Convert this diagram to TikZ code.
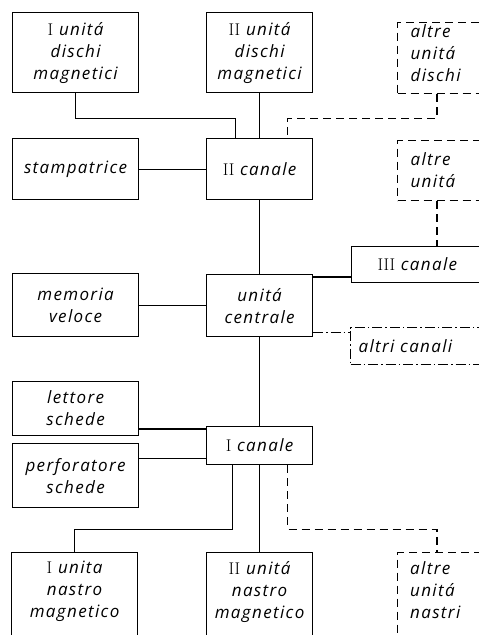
\documentclass[tikz,border=0pt]{standalone}
\usepackage{fontspec}
\setsansfont{Open Sans}[LetterSpace=8]
\newcommand\lbl{\sffamily\itshape\fontsize{17}{22}\selectfont}
\newcommand\rn[1]{{\rmfamily\upshape #1}}
\tikzset{
  box/.style={draw, line width=1.2pt, rectangle, inner sep=0pt, align=center, font=\lbl, anchor=north west},
  dbox/.style={box, dash pattern=on 8pt off 5pt},
  ddbox/.style={box, dash pattern=on 10pt off 3pt on 1.5pt off 3pt},
  lbox/.style={align=left, inner xsep=#1},
  txt/.style={inner sep=0pt, font=\lbl},
  conn/.style={line width=1.2pt},
  dconn/.style={conn, dash pattern=on 8pt off 5pt},
  ddconn/.style={conn, dash pattern=on 10pt off 3pt on 1.5pt off 3pt},
}
\begin{document}
\begin{tikzpicture}[x=1pt, y=-1pt]
\useasboundingbox (0,0) rectangle (479,635);
\clip (0,0) rectangle (479,635);
% top row
\node[box, minimum width=126pt, minimum height=80pt] (d1) at (12,12) {\rn{I} unitá\\dischi\\magnetici};
\node[box, minimum width=106pt, minimum height=80pt] (d2) at (206,12) {\rn{II} unitá\\dischi\\magnetici};
\node[dbox, lbox=13pt, text width=70pt, minimum height=71pt] (d3) at (397,22) {altre\\unitá\\dischi\\[-11pt]\mbox{}};
% second row
\node[box, minimum width=126pt, minimum height=61pt] (st) at (12,138) {stampatrice};
\node[box, minimum width=106pt, minimum height=61pt] (c2) at (206,138) {\rn{II} canale};
\node[dbox, lbox=13pt, text width=70pt, minimum height=60pt] (au) at (397,140) {altre\\unitá};
% third channel
\node[box, lbox=26pt, text width=90pt, minimum height=36pt] (c3) at (351,246) {\rn{III} canale};
% centre row
\node[box, minimum width=126pt, minimum height=63pt] (mv) at (12,273) {memoria\\veloce};
\node[box, minimum width=106pt, minimum height=62pt] (uc) at (206,274) {unitá\\centrale};
\node[ddbox, lbox=8pt, text width=130pt, minimum height=37pt] (ac) at (350,327) {altri canali};
% first channel group
\node[box, minimum width=126pt, minimum height=54pt] (ls) at (12,381) {lettore\\schede};
\node[box, minimum width=106pt, minimum height=38pt] (c1) at (206,426) {\rn{I} canale};
\node[box, minimum width=126pt, minimum height=64pt] (ps) at (12,443) {perforatore\\schede};
% bottom row
\node[box, minimum width=126pt, minimum height=100pt] (n1) at (11,552) {};
\node[box, minimum width=106pt, minimum height=100pt] (n2) at (206,552) {};
\node[dbox, minimum width=96pt, minimum height=100pt] (n3) at (397,552) {};
\node[txt, align=center, anchor=north] (n1t) at ([yshift=-9pt]n1.north) {\rn{I} unita\\nastro\\magnetico};
\node[txt, align=center, anchor=north] (n2t) at ([yshift=-9pt]n2.north) {\rn{II} unitá\\nastro\\magnetico};
\node[txt, align=left, anchor=north west] (n3t) at ([xshift=13pt,yshift=-9pt]n3.north west) {altre\\unitá\\nastri};
% connectors
\draw[conn] (d1.south) -- ++(0,25) -| ([xshift=-24pt]c2.north);
\draw[conn] (d2.south) -- (c2.north);
\draw[dconn] ([xshift=40pt]d3.south west) -- ++(0,24) -| ([xshift=28pt]c2.north);
\draw[conn] (st.east) -- (st.east -| c2.west);
\draw[conn] (c2.south) -- (uc.north);
\draw[dconn] ([xshift=40pt]au.south west) -- ([xshift=86pt]c3.north west);
\coordinate (p1) at ([yshift=-3pt]uc.north east);
\draw[conn] (p1) -- (p1 -| c3.west);
\coordinate (p2) at ([yshift=5pt]uc.south east);
\draw[ddconn] (p2) -- (p2 -| ac.west);
\draw[conn] (mv.east) -- (mv.east -| uc.west);
\draw[conn] (uc.south) -- (c1.north);
\coordinate (p3) at ([yshift=-3pt]c1.north west);
\draw[conn] (p3 -| ls.east) -- (p3);
\coordinate (p4) at ([yshift=7pt]c1.south west);
\draw[conn] (p4 -| ps.east) -- (p4);
\draw[conn] ([xshift=-27pt]c1.south) -- ++(0,64) -| (n1.north);
\draw[conn] (c1.south) -- (n2.north);
\draw[dconn] ([xshift=28pt]c1.south) -- ++(0,64) -| ([xshift=40pt]n3.north west);
\end{tikzpicture}
\end{document}
